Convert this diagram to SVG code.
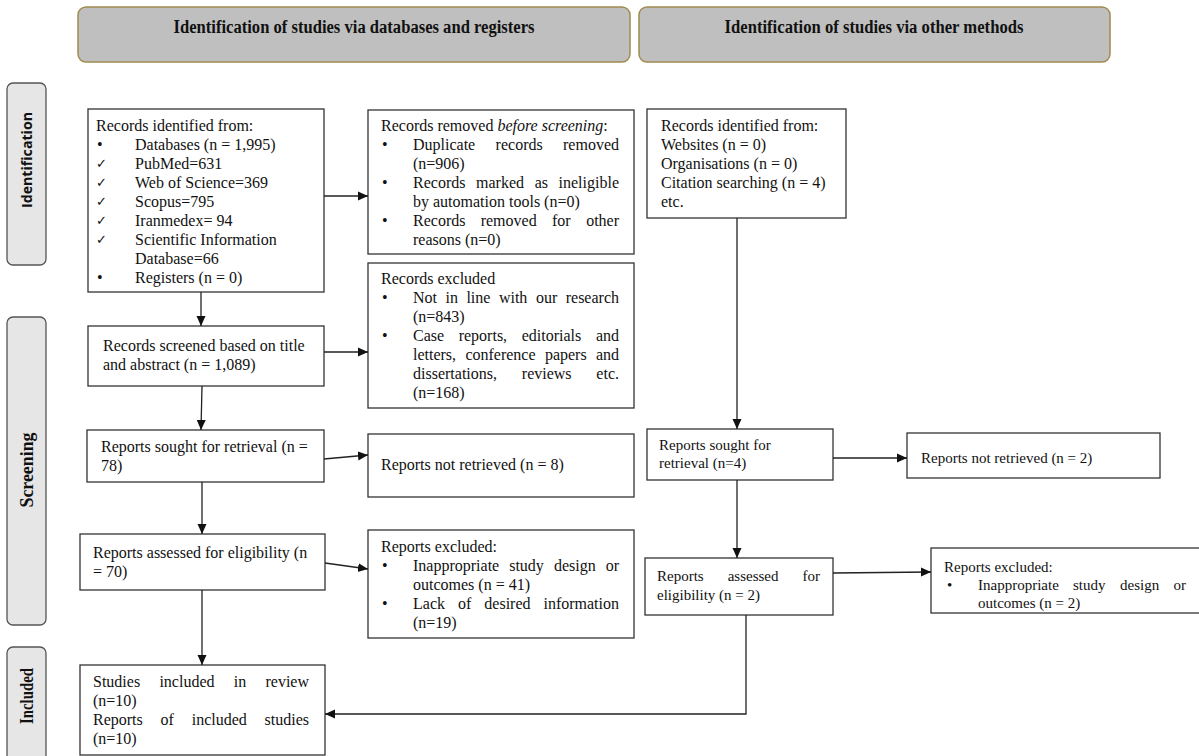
<svg xmlns="http://www.w3.org/2000/svg" width="1199" height="756" viewBox="0 0 1199 756">
<style>
.bg{fill:#fff}
.box{fill:#fff;stroke:#333;stroke-width:1.3}
.hdr{fill:#bfbfbf;stroke:#a08c50;stroke-width:1.5}
.side{fill:#e6e6e6;stroke:#555;stroke-width:1.3}
.t{font-family:"Liberation Serif","Times New Roman",serif;font-size:16px;fill:#111}
.s{font-size:15px}
.e{text-anchor:end}
.m{text-anchor:middle}
.i{font-style:italic}
.ck{font-family:"DejaVu Sans",sans-serif;font-size:13px;fill:#111}
.ht{font-family:"Liberation Serif","Times New Roman",serif;font-weight:bold;font-size:18px;fill:#111;text-anchor:middle}
.st{font-family:"Open Sans","Liberation Sans",sans-serif;font-weight:bold;font-size:14px;fill:#111;text-anchor:middle}
.conn{fill:none;stroke:#222;stroke-width:1.3}
</style>
<defs>
<marker id="ah" markerUnits="userSpaceOnUse" markerWidth="10" markerHeight="10" refX="10" refY="5" orient="auto">
<path d="M0,0.5 L10,5 L0,9.5 z" fill="#111"/>
</marker>
</defs>
<rect class="bg" x="0" y="0" width="1199" height="756"/>

<g id="header-databases">
<rect class="hdr" x="78" y="7" width="552" height="55" rx="8"/>
<text class="ht" x="354" y="33" textLength="361" lengthAdjust="spacingAndGlyphs">Identification of studies via databases and registers</text>
</g>
<g id="header-other">
<rect class="hdr" x="639" y="7" width="471" height="55" rx="8"/>
<text class="ht" x="874" y="33" textLength="299" lengthAdjust="spacingAndGlyphs">Identification of studies via other methods</text>
</g>

<g id="side-identification">
<rect class="side" x="7" y="83" width="39" height="182" rx="6"/>
<text class="st" transform="translate(32,160) rotate(-90)" textLength="96" lengthAdjust="spacingAndGlyphs">Identification</text>
</g>
<g id="side-screening">
<rect class="side" x="7" y="317" width="39" height="308" rx="6"/>
<text class="ht" transform="translate(33,470) rotate(-90)" textLength="75" lengthAdjust="spacingAndGlyphs">Screening</text>
</g>
<g id="side-included">
<rect class="side" x="7" y="647" width="39" height="120" rx="6"/>
<text class="ht" transform="translate(33,696) rotate(-90)" textLength="56" lengthAdjust="spacingAndGlyphs">Included</text>
</g>

<g id="records-identified-db">
<rect class="box" x="88" y="109" width="236" height="183"/>
<text class="t" x="96" y="131">Records identified from:</text>
<text class="t" x="97" y="150">•</text><text class="t" x="135" y="150">Databases (n = 1,995)</text>
<text class="ck" x="96" y="168">✓</text><text class="t" x="135" y="169">PubMed=631</text>
<text class="ck" x="96" y="187">✓</text><text class="t" x="135" y="188">Web of Science=369</text>
<text class="ck" x="96" y="206">✓</text><text class="t" x="135" y="207">Scopus=795</text>
<text class="ck" x="96" y="225">✓</text><text class="t" x="135" y="226">Iranmedex= 94</text>
<text class="ck" x="96" y="244">✓</text><text class="t" x="135" y="245">Scientific Information</text>
<text class="t" x="135" y="264">Database=66</text>
<text class="t" x="97" y="283">•</text><text class="t" x="135" y="283">Registers (n = 0)</text>
</g>

<g id="records-removed">
<rect class="box" x="368" y="110" width="266" height="144"/>
<text class="t" x="381" y="131">Records removed <tspan class="i">before screening</tspan>:</text>
<text class="t" x="382" y="150">•</text>
<text class="t" x="413" y="150">Duplicate</text><text class="t" x="495.6" y="150">records</text><text class="t e" x="619" y="150">removed</text>
<text class="t" x="413" y="169">(n=906)</text>
<text class="t" x="382" y="188">•</text>
<text class="t" x="413" y="188">Records</text><text class="t" x="476" y="188">marked</text><text class="t" x="534.7" y="188">as</text><text class="t e" x="619" y="188">ineligible</text>
<text class="t" x="413" y="207">by automation tools (n=0)</text>
<text class="t" x="382" y="226">•</text>
<text class="t" x="413" y="226">Records</text><text class="t" x="480.7" y="226">removed</text><text class="t" x="552" y="226">for</text><text class="t e" x="619" y="226">other</text>
<text class="t" x="413" y="245">reasons (n=0)</text>
</g>

<g id="records-excluded">
<rect class="box" x="368" y="263" width="266" height="145"/>
<text class="t" x="381" y="284">Records excluded</text>
<text class="t" x="382" y="303">•</text>
<text class="t" x="413" y="303">Not</text><text class="t" x="445.5" y="303">in</text><text class="t" x="466.4" y="303">line</text><text class="t" x="498.9" y="303">with</text><text class="t" x="535.9" y="303">our</text><text class="t e" x="619" y="303">research</text>
<text class="t" x="413" y="322">(n=843)</text>
<text class="t" x="382" y="341">•</text>
<text class="t" x="413" y="341">Case</text><text class="t" x="458.7" y="341">reports,</text><text class="t" x="521.7" y="341">editorials</text><text class="t e" x="619" y="341">and</text>
<text class="t" x="413" y="360">letters,</text><text class="t" x="465.4" y="360">conference</text><text class="t" x="544.9" y="360">papers</text><text class="t e" x="619" y="360">and</text>
<text class="t" x="413" y="379">dissertations,</text><text class="t" x="521.8" y="379">reviews</text><text class="t e" x="619" y="379">etc.</text>
<text class="t" x="413" y="398">(n=168)</text>
</g>

<g id="records-screened">
<rect class="box" x="88" y="326" width="236" height="60"/>
<text class="t" x="103" y="351">Records screened based on title</text>
<text class="t" x="103" y="370">and abstract (n = 1,089)</text>
</g>

<g id="reports-sought-db">
<rect class="box" x="87" y="430" width="237" height="52"/>
<text class="t" x="101" y="452">Reports sought for retrieval (n =</text>
<text class="t" x="101" y="471">78)</text>
</g>

<g id="reports-not-retrieved-db">
<rect class="box" x="368" y="434" width="266" height="63"/>
<text class="t" x="381" y="470">Reports not retrieved (n = 8)</text>
</g>

<g id="reports-assessed-db">
<rect class="box" x="80" y="534" width="245" height="56"/>
<text class="t" x="93" y="558">Reports assessed for eligibility (n</text>
<text class="t" x="93" y="577">= 70)</text>
</g>

<g id="reports-excluded-db">
<rect class="box" x="368" y="530" width="266" height="108"/>
<text class="t" x="381" y="552">Reports excluded:</text>
<text class="t" x="382" y="571">•</text>
<text class="t" x="413" y="571">Inappropriate</text><text class="t" x="509.2" y="571">study</text><text class="t" x="553.9" y="571">design</text><text class="t e" x="619" y="571">or</text>
<text class="t" x="413" y="590">outcomes (n = 41)</text>
<text class="t" x="382" y="609">•</text>
<text class="t" x="413" y="609">Lack</text><text class="t" x="458" y="609">of</text><text class="t" x="484.3" y="609">desired</text><text class="t e" x="619" y="609">information</text>
<text class="t" x="413" y="628">(n=19)</text>
</g>

<g id="studies-included">
<rect class="box" x="80" y="665" width="245" height="90"/>
<text class="t" x="93" y="687">Studies</text><text class="t" x="159.4" y="687">included</text><text class="t" x="233.8" y="687">in</text><text class="t e" x="309" y="687">review</text>
<text class="t" x="93" y="706">(n=10)</text>
<text class="t" x="93" y="725">Reports</text><text class="t" x="160.6" y="725">of</text><text class="t" x="191.7" y="725">included</text><text class="t e" x="309" y="725">studies</text>
<text class="t" x="93" y="744">(n=10)</text>
</g>

<g id="records-identified-other">
<rect class="box" x="647" y="109" width="199" height="109"/>
<text class="t" x="661" y="131">Records identified from:</text>
<text class="t" x="661" y="150">Websites (n = 0)</text>
<text class="t" x="661" y="169">Organisations (n = 0)</text>
<text class="t" x="661" y="188">Citation searching (n = 4)</text>
<text class="t" x="661" y="207">etc.</text>
</g>

<g id="reports-sought-other">
<rect class="box" x="647" y="429" width="186" height="51"/>
<text class="t s" x="659" y="450">Reports sought for</text>
<text class="t s" x="659" y="468">retrieval (n=4)</text>
</g>

<g id="reports-not-retrieved-other">
<rect class="box" x="907" y="433" width="253" height="45"/>
<text class="t s" x="921" y="463">Reports not retrieved (n = 2)</text>
</g>

<g id="reports-assessed-other">
<rect class="box" x="645" y="558" width="188" height="57"/>
<text class="t s" x="657" y="581">Reports</text><text class="t s" x="727.7" y="581">assessed</text><text class="t s e" x="820" y="581">for</text>
<text class="t s" x="657" y="600">eligibility (n = 2)</text>
</g>

<g id="reports-excluded-other">
<rect class="box" x="931" y="548" width="280" height="65"/>
<text class="t s" x="944" y="572">Reports excluded:</text>
<text class="t s" x="947" y="590">•</text>
<text class="t s" x="978" y="590">Inappropriate</text><text class="t s" x="1073" y="590">study</text><text class="t s" x="1120" y="590">design</text><text class="t s e" x="1186" y="590">or</text>
<text class="t s" x="978" y="608">outcomes (n = 2)</text>
</g>

<g id="connectors">
<line class="conn" x1="324" y1="196" x2="368" y2="196" marker-end="url(#ah)"/>
<line class="conn" x1="201" y1="292" x2="201" y2="326" marker-end="url(#ah)"/>
<line class="conn" x1="324" y1="352" x2="368" y2="352" marker-end="url(#ah)"/>
<line class="conn" x1="202" y1="386" x2="201" y2="430" marker-end="url(#ah)"/>
<line class="conn" x1="324" y1="459" x2="368" y2="455" marker-end="url(#ah)"/>
<line class="conn" x1="202" y1="482" x2="202" y2="534" marker-end="url(#ah)"/>
<line class="conn" x1="325" y1="563" x2="368" y2="569" marker-end="url(#ah)"/>
<line class="conn" x1="202" y1="590" x2="202" y2="665" marker-end="url(#ah)"/>
<line class="conn" x1="737" y1="218" x2="737" y2="429" marker-end="url(#ah)"/>
<line class="conn" x1="833" y1="458" x2="907" y2="458" marker-end="url(#ah)"/>
<line class="conn" x1="737" y1="480" x2="737" y2="558" marker-end="url(#ah)"/>
<line class="conn" x1="833" y1="573" x2="931" y2="572" marker-end="url(#ah)"/>
<polyline class="conn" points="746,615 746,714 325,714" marker-end="url(#ah)"/>
</g>
</svg>
